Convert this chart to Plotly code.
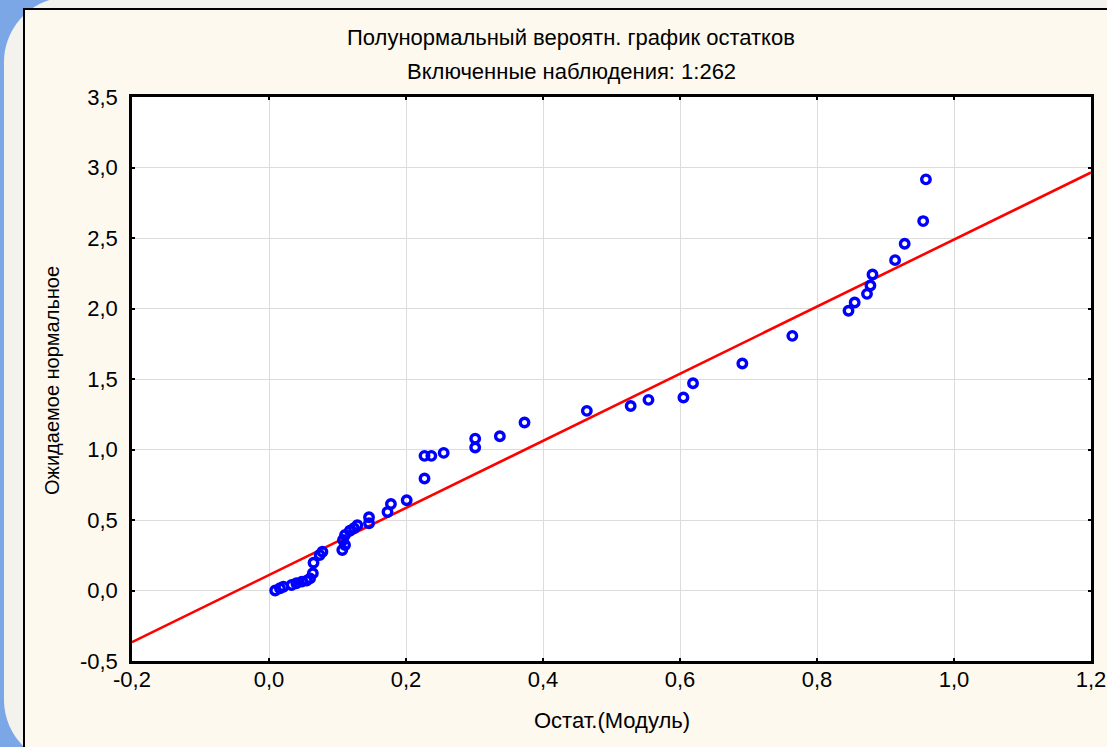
import plotly.graph_objects as go

# ---------------- data ----------------
resid_abs = [0.009, 0.016, 0.021, 0.033, 0.040, 0.048, 0.055, 0.060, 0.064, 0.065,
             0.074, 0.078, 0.107, 0.111, 0.108, 0.111, 0.118, 0.124, 0.129, 0.146,
             0.146, 0.173, 0.178, 0.201, 0.227, 0.227, 0.237, 0.255, 0.301, 0.301,
             0.337, 0.373, 0.464, 0.528, 0.554, 0.605, 0.619, 0.691, 0.764, 0.846,
             0.855, 0.873, 0.878, 0.881, 0.914, 0.928, 0.955, 0.959]
expected_normal = [0.000, 0.016, 0.027, 0.039, 0.051, 0.063, 0.070, 0.086, 0.122, 0.197,
                   0.252, 0.275, 0.287, 0.323, 0.358, 0.394, 0.424, 0.441, 0.463, 0.477,
                   0.519, 0.557, 0.614, 0.640, 0.794, 0.955, 0.955, 0.976, 1.014, 1.077,
                   1.094, 1.191, 1.274, 1.309, 1.352, 1.369, 1.470, 1.610, 1.806, 1.984,
                   2.043, 2.104, 2.163, 2.241, 2.343, 2.459, 2.620, 2.916]
fit_slope = 2.379
fit_intercept = 0.110

x_range = [-0.2, 1.2]
y_range = [-0.5, 3.5]
x_ticks = [-0.2, 0.0, 0.2, 0.4, 0.6, 0.8, 1.0, 1.2]
x_tick_labels = ["-0,2", "0,0", "0,2", "0,4", "0,6", "0,8", "1,0", "1,2"]
y_ticks = [-0.5, 0.0, 0.5, 1.0, 1.5, 2.0, 2.5, 3.0, 3.5]
y_tick_labels = ["-0,5", "0,0", "0,5", "1,0", "1,5", "2,0", "2,5", "3,0", "3,5"]

title_line1 = "Полунормальный вероятн. график остатков"
title_line2 = "Включенные наблюдения: 1:262"
x_title = "Остат.(Модуль)"
y_title = "Ожидаемое нормальное"

# ---------------- layout geometry (pixels) ----------------
W, H = 1107, 747
L, R, T, B = 132, 1091, 97, 661


def px(x):
    return (x - L) / (R - L)


def py(y):
    return (B - y) / (B - T)


FONT = "Liberation Sans, Arial, sans-serif"
FS = 22

fig = go.Figure()

fit_x = x_range
fit_y = [fit_intercept + fit_slope * v for v in fit_x]
fig.add_trace(go.Scatter(x=fit_x, y=fit_y, mode="lines",
                         line=dict(color="#ff0000", width=2.6),
                         hoverinfo="skip", showlegend=False))
fig.add_trace(go.Scatter(x=resid_abs, y=expected_normal, mode="markers",
                         marker=dict(symbol="circle-open", size=8.5, color="#0000ff",
                                     line=dict(width=3.4, color="#0000ff")),
                         showlegend=False))

# background frame shapes
k = 0.5523
r = 65
gx0, gy0, gy1, gx1 = 4, -3, 765, 1300


def P(x, y):
    return f"{px(x):.5f},{py(y):.5f}"


gray_path = (
    f"M {P(gx0, gy0 + r)} "
    f"C {P(gx0, gy0 + r - k * r)} {P(gx0 + r - k * r, gy0)} {P(gx0 + r, gy0)} "
    f"L {P(gx1, gy0)} L {P(gx1, gy1)} L {P(gx0 + r, gy1)} "
    f"C {P(gx0 + r - k * r, gy1)} {P(gx0, gy1 - r + k * r)} {P(gx0, gy1 - r)} Z"
)

shapes = [
    dict(type="path", xref="paper", yref="paper", path=gray_path,
         fillcolor="#f4f2ed", line=dict(width=0), layer="below"),
    dict(type="rect", xref="paper", yref="paper",
         x0=px(24), x1=px(1200), y0=py(9), y1=py(800),
         fillcolor="#fdf9ee", line=dict(color="#000000", width=2), layer="below"),
    dict(type="rect", xref="paper", yref="paper",
         x0=0, x1=1, y0=0, y1=1,
         fillcolor="#ffffff", line=dict(width=0), layer="below"),
]

annotations = [
    dict(text=title_line1, x=px(571), y=py(38), xref="paper", yref="paper",
         xanchor="center", yanchor="middle", showarrow=False,
         font=dict(family=FONT, size=FS, color="#000000")),
    dict(text=title_line2, x=px(571), y=py(72), xref="paper", yref="paper",
         xanchor="center", yanchor="middle", showarrow=False,
         font=dict(family=FONT, size=FS, color="#000000")),
    dict(text=x_title, x=px(612), y=py(720), xref="paper", yref="paper",
         xanchor="center", yanchor="middle", showarrow=False,
         font=dict(family=FONT, size=FS, color="#000000")),
    dict(text=y_title, x=px(52), y=py(381), xref="paper", yref="paper",
         xanchor="center", yanchor="middle", showarrow=False, textangle=-90,
         font=dict(family=FONT, size=20, color="#000000")),
]

axis_common = dict(
    showline=True, linecolor="#000000", linewidth=2.5, mirror="ticks",
    ticks="inside", ticklen=3, tickwidth=2, tickcolor="#000000",
    showgrid=True, gridcolor="#dcdcdc", gridwidth=1, zeroline=False,
    automargin=False, ticklabeloverflow="allow",
    tickfont=dict(family=FONT, size=FS, color="#000000"),
)

fig.update_xaxes(range=x_range, tickvals=x_ticks, ticktext=x_tick_labels,
                 ticklabelstandoff=-3, **axis_common)
fig.update_yaxes(range=y_range, tickvals=y_ticks, ticktext=y_tick_labels,
                 ticklabelstandoff=7, **axis_common)

fig.update_layout(
    width=W, height=H,
    margin=dict(l=L, r=W - R, t=T, b=H - B, pad=0, autoexpand=False),
    paper_bgcolor="#7ba7e7",
    plot_bgcolor="#ffffff",
    shapes=shapes,
    annotations=annotations,
    font=dict(family=FONT, size=FS, color="#000000"),
    showlegend=False,
    hovermode="closest",
)

fig.write_html("out.html", config={"displayModeBar": False},
               post_script="document.body.style.margin='0px';")
